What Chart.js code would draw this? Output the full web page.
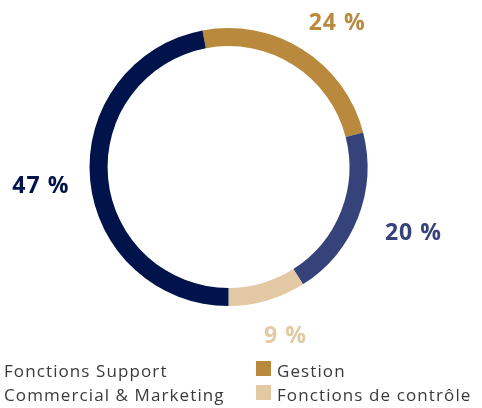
<!DOCTYPE html>
<html>
<head>
<meta charset="utf-8">
<script src="https://cdn.jsdelivr.net/npm/chart.js@4/dist/chart.umd.min.js"></script>
<style>
  body { margin: 0; background: #fff; }
  #wrap { position: relative; width: 482px; height: 408px; }
</style>
</head>
<body>
<div id="wrap"><canvas id="chart1"></canvas></div>
<script>
// data, clockwise from the top
const labels = ['Gestion', 'Commercial & Marketing', 'Fonctions de contrôle', 'Fonctions Support'];
const values = [24, 20, 9, 47];
const colors = ['#b98a3d', '#36437a', '#e2c9a4', '#00134b'];
// legend reads in this order (two columns)
const legendOrder = ['Fonctions Support', 'Gestion', 'Commercial & Marketing', 'Fonctions de contrôle'];

//....value labels around the ring
const ringLabels = {
  id: 'ringLabels',
  afterDatasetsDraw(chart) {
    const ctx = chart.ctx;
    const arcs = chart.getDatasetMeta(0).data;
    ctx.save();
    ctx.font = 'bold 23px "Open Sans"';
    ctx.letterSpacing = '1px';
    ctx.textAlign = 'center';
    ctx.textBaseline = 'middle';
    arcs.forEach(function(arc, i){
      const mid = (arc.startAngle + arc.endAngle) / 2;
      const txt = values[i] + ' %';
      const w = ctx.measureText(txt).width;
      const r = arc.outerRadius + 26;
      const x = arc.x + Math.cos(mid) * (r + w / 2) + 5;
      const y = arc.y + Math.sin(mid) * (r + 8.5) + 3;
      ctx.fillStyle = colors[i];
      ctx.fillText(txt, x, y);
    });
    ctx.restore();
  }
};

//....legend at the bottom
const bottomLegend = {
  id: 'bottomLegend',
  afterDraw(chart) {
    const ctx = chart.ctx;
    ctx.save();
    ctx.font = '17px "Open Sans"';
    ctx.letterSpacing = '1.1px';
    ctx.textBaseline = 'alphabetic';
    legendOrder.forEach(function(name, k){
      const i = labels.indexOf(name);
      const col = k % 2, row = Math.floor(k / 2);
      const tx = col == 0 ? 4 : 277;
      const y = 377 + row * 24;
      ctx.fillStyle = colors[i];
      ctx.fillRect(tx - 21, y - 16, 15, 15);
      ctx.fillStyle = '#3a3a3a';
      ctx.fillText(name, tx, y);
    });
    ctx.restore();
  }
};

const ctx1 = document.querySelector('#chart1');
new Chart(ctx1, {
  type: 'doughnut',
  data: {
    labels: labels,
    datasets: [{
      data: values,
      backgroundColor: colors,
      borderWidth: 0,
      hoverOffset: 0
    }]
  },
  options: {
    responsive: true,
    maintainAspectRatio: false,
    animation: false,
    rotation: -10.8,
    cutout: '87%',
    layout: { padding: { left: 89.5, right: 114.5, top: 28, bottom: 102 } },
    plugins: {
      legend: { display: false },
      tooltip: { enabled: false }
    }
  },
  plugins: [ringLabels, bottomLegend]
});
</script>
</body>
</html>
